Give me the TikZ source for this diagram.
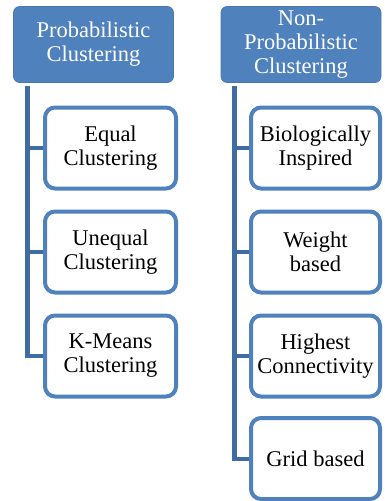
\documentclass[tikz,border=0pt]{standalone}
\usepackage{fontspec}
\setmainfont{Liberation Serif}
\definecolor{hdr}{HTML}{4F81BD}
\definecolor{trunkc}{HTML}{3E6CA3}
\begin{document}
\begin{tikzpicture}[x=1pt,y=-1pt,
  header/.style={draw=hdr!92!black, line width=0.6pt, fill=hdr, rounded corners=6pt, text=white,
    minimum width=160pt, minimum height=76pt, align=center, inner sep=0pt,
    font=\fontsize{22.5}{24}\selectfont},
  child/.style={draw=hdr, line width=4pt, fill=white, rounded corners=10pt, text=black,
    minimum height=81pt, align=center, inner sep=0pt,
    font=\fontsize{22.5}{24}\selectfont},
  trunk/.style={draw=trunkc, line width=5pt},
  stub/.style={draw=trunkc, line width=4pt}]
\useasboundingbox (0,0) rectangle (384,501);
\node[header] (lh) at (93.5,44.5) {Probabilistic\\Clustering};
\node[header] (rh) at (301,44.5) {Non-\\Probabilistic\\Clustering};
\node[child, minimum width=131pt] (l1) at (110.5,148) {Equal\\Clustering};
\node[child, minimum width=131pt] (l2) at (110.5,252) {Unequal\\Clustering};
\node[child, minimum width=131pt] (l3) at (110.5,356) {K-Means\\Clustering};
\node[child, minimum width=129pt] (r1) at (315.5,148) {Biologically\\Inspired};
\node[child, minimum width=129pt] (r2) at (315.5,252) {Weight\\based};
\node[child, minimum width=129pt] (r3) at (315.5,356) {Highest\\Connectivity};
\node[child, minimum width=129pt] (r4) at (315.5,458.5) {Grid based};
\coordinate (lt) at (27.5,86);
\coordinate (rt) at (234.5,86);
\draw[trunk] (lt) -- (lt |- l3.west);
\draw[stub] (lt |- l1.west) -- (l1.west);
\draw[stub] (lt |- l2.west) -- (l2.west);
\draw[stub] ([xshift=-2.5pt]lt |- l3.west) -- (l3.west);
\draw[trunk] (rt) -- (rt |- r4.west);
\draw[stub] (rt |- r1.west) -- (r1.west);
\draw[stub] (rt |- r2.west) -- (r2.west);
\draw[stub] (rt |- r3.west) -- (r3.west);
\draw[stub] ([xshift=-2.5pt]rt |- r4.west) -- (r4.west);
\end{tikzpicture}
\end{document}
